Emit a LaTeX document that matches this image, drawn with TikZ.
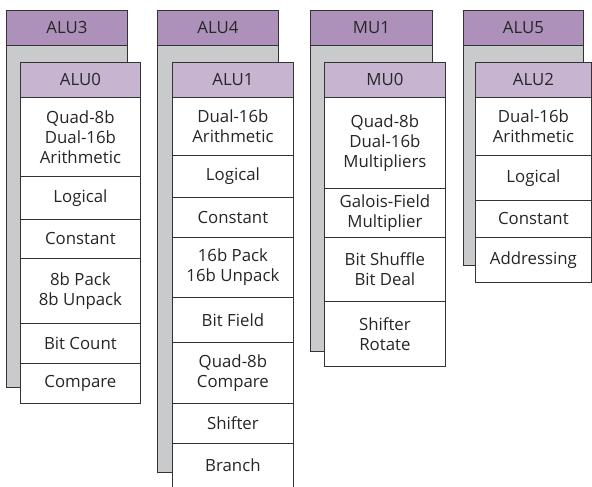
\documentclass[tikz,border=0pt]{standalone}
\usepackage{fontspec}
\setmainfont{Open Sans}
\definecolor{hdrback}{HTML}{AD91BA}
\definecolor{hdrfront}{HTML}{C7B4D1}
\definecolor{bodygray}{HTML}{C9CACB}
\definecolor{edge}{HTML}{333333}
\tikzset{
  box/.style={draw=edge, line width=0.8pt, anchor=north west, inner sep=0pt,
    align=center, font=\fontsize{16.8}{20}\selectfont, text=black!85},
  backhdr/.style={box, fill=hdrback, minimum height=35pt},
  backbody/.style={box, fill=bodygray},
  fronthdr/.style={box, fill=hdrfront, minimum height=35pt},
  cell/.style={box, fill=white},
}
\begin{document}
\begin{tikzpicture}[x=1pt,y=-1pt]
\useasboundingbox (0,0) rectangle (592,487);
% ---- Column 1
\node[backhdr, minimum width=121pt] (alu3) at (6,10) {ALU3};
\node[backbody, minimum width=121pt, minimum height=342pt] (alu3b) at (6,45) {};
\node[fronthdr, minimum width=120pt] (alu0) at (20,62) {ALU0};
\node[cell, minimum width=120pt, minimum height=79pt] (a0s1) at (20,97) {Quad-8b\\Dual-16b\\Arithmetic};
\node[cell, minimum width=120pt, minimum height=43pt] (a0s2) at (20,176) {Logical};
\node[cell, minimum width=120pt, minimum height=39pt] (a0s3) at (20,219) {Constant};
\node[cell, minimum width=120pt, minimum height=65pt] (a0s4) at (20,258) {8b Pack\\8b Unpack};
\node[cell, minimum width=120pt, minimum height=40pt] (a0s5) at (20,323) {Bit Count};
\node[cell, minimum width=120pt, minimum height=40pt] (a0s6) at (20,363) {Compare};
% ---- Column 2
\node[backhdr, minimum width=121pt] (alu4) at (157,10) {ALU4};
\node[backbody, minimum width=121pt, minimum height=427pt] (alu4b) at (157,45) {};
\node[fronthdr, minimum width=121pt] (alu1) at (172,62) {ALU1};
\node[cell, minimum width=121pt, minimum height=58pt] (a1s1) at (172,97) {Dual-16b\\Arithmetic};
\node[cell, minimum width=121pt, minimum height=42pt] (a1s2) at (172,155) {Logical};
\node[cell, minimum width=121pt, minimum height=40pt] (a1s3) at (172,197) {Constant};
\node[cell, minimum width=121pt, minimum height=60pt] (a1s4) at (172,237) {16b Pack\\16b Unpack};
\node[cell, minimum width=121pt, minimum height=45pt] (a1s5) at (172,297) {Bit Field};
\node[cell, minimum width=121pt, minimum height=61pt] (a1s6) at (172,342) {Quad-8b\\Compare};
\node[cell, minimum width=121pt, minimum height=40pt] (a1s7) at (172,403) {Shifter};
\node[cell, minimum width=121pt, minimum height=52pt, text depth=8pt] (a1s8) at (172,443) {Branch};
% ---- Column 3
\node[backhdr, minimum width=122pt] (mu1) at (310,10) {MU1};
\node[backbody, minimum width=122pt, minimum height=306pt] (mu1b) at (310,45) {};
\node[fronthdr, minimum width=121pt] (mu0) at (324,62) {MU0};
\node[cell, minimum width=121pt, minimum height=91pt] (m0s1) at (324,97) {Quad-8b\\Dual-16b\\Multipliers};
\node[cell, minimum width=121pt, minimum height=49pt] (m0s2) at (324,188) {Galois-Field\\Multiplier};
\node[cell, minimum width=121pt, minimum height=64pt] (m0s3) at (324,237) {Bit Shuffle\\Bit Deal};
\node[cell, minimum width=121pt, minimum height=65pt] (m0s4) at (324,301) {Shifter\\Rotate};
% ---- Column 4
\node[backhdr, minimum width=120pt] (alu5) at (463,10) {ALU5};
\node[backbody, minimum width=120pt, minimum height=220pt] (alu5b) at (463,45) {};
\node[fronthdr, minimum width=116pt] (alu2) at (475,62) {ALU2};
\node[cell, minimum width=116pt, minimum height=58pt] (a2s1) at (475,97) {Dual-16b\\Arithmetic};
\node[cell, minimum width=116pt, minimum height=45pt] (a2s2) at (475,155) {Logical};
\node[cell, minimum width=116pt, minimum height=37pt] (a2s3) at (475,200) {Constant};
\node[cell, minimum width=116pt, minimum height=45pt] (a2s4) at (475,237) {Addressing};
\end{tikzpicture}
\end{document}
